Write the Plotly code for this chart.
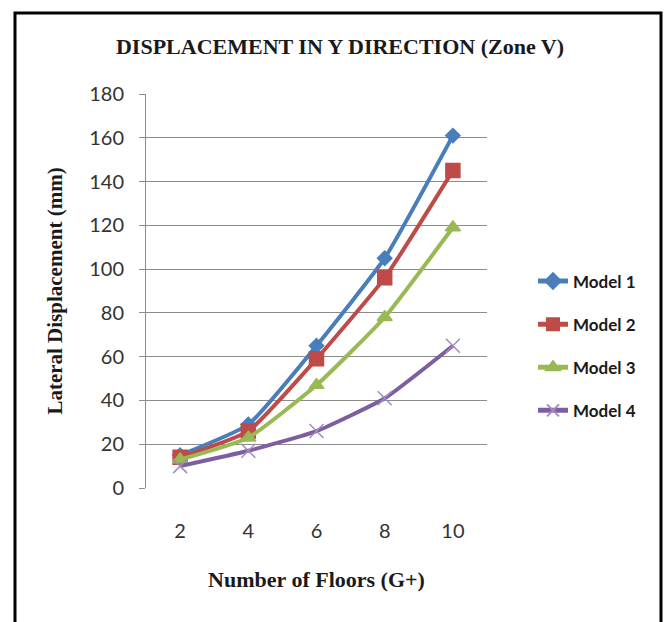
import plotly.graph_objects as go

floors = ["2", "4", "6", "8", "10"]
model_1 = [15, 29, 65, 105, 161]
model_2 = [14, 26, 59, 96, 145]
model_3 = [13, 23, 47, 78, 119]
model_4 = [10, 17, 26, 41, 65]
y_ticks = [0, 20, 40, 60, 80, 100, 120, 140, 160, 180]

series = [
    ("Model 1", model_1, "#4A7EBB", "diamond", 11, "#4A7EBB"),
    ("Model 2", model_2, "#BE4B48", "square", 14, "#BE4B48"),
    ("Model 3", model_3, "#98B954", "triangle-up", 13, "#98B954"),
    ("Model 4", model_4, "#7D5FA0", "x-thin", 14, "#A08CC0"),
]

W, H = 669, 622
L, R, T, B = 146, 487, 94, 488

fig = go.Figure()
for i, (name, vals, col, sym, size, mcol) in enumerate(series):
    fig.add_trace(go.Scatter(
        x=floors, y=vals, name=name, mode="lines+markers",
        legendgroup=f"g{i}",
        line=dict(color=col, width=4, shape="spline", smoothing=0.45),
        marker=dict(symbol=sym, size=size, color=mcol,
                    line=dict(color=mcol, width=1.5)),
    ))

def px(x):
    return (x - L) / (R - L)

def py(y):
    return (B - y) / (B - T)

fig.add_shape(type="rect", xref="paper", yref="paper",
              x0=px(15), x1=px(661), y0=py(640), y1=py(13),
              line=dict(color="black", width=3), fillcolor="rgba(0,0,0,0)")

fig.update_layout(
    width=W, height=H,
    margin=dict(l=L, r=W - R, t=T, b=H - B),
    paper_bgcolor="white", plot_bgcolor="white",
    showlegend=True,
    title=dict(text="<b>DISPLACEMENT IN Y DIRECTION (Zone V)</b>",
               x=px(340), xanchor="center", xref="paper",
               y=1 - 46 / H, yanchor="middle",
               font=dict(family="Liberation Serif", size=22, color="#1a1a1a")),
    legend=dict(x=px(533), xanchor="left", y=py(346), yanchor="middle",
                font=dict(family="Lato", size=17, color="#1a1a1a", weight="bold"),
                itemsizing="constant",
                tracegroupgap=18, bgcolor="rgba(0,0,0,0)"),
    xaxis=dict(type="category", range=[-0.5, 4.5], showgrid=False,
               showline=False, ticks="",
               tickfont=dict(family="Lato", size=20, color="#333333"),
               ticklabelstandoff=29,
               title=dict(text="<b>Number of Floors (G+)</b>", standoff=30,
                          font=dict(family="Liberation Serif", size=22, color="#1a1a1a"))),
    yaxis=dict(range=[0, 180], tickvals=y_ticks, showgrid=True,
               gridcolor="#8c8c8c", gridwidth=1, zeroline=False,
               showline=True, linecolor="#8c8c8c", linewidth=1,
               ticks="outside", ticklen=6, tickcolor="#8c8c8c",
               tickfont=dict(family="Lato", size=20, color="#333333"),
               ticklabelstandoff=11,
               title=dict(text="<b>Lateral Displacement (mm)</b>", standoff=20,
                          font=dict(family="Liberation Serif", size=21, color="#1a1a1a"))),
)

fig.write_html("out.html")
